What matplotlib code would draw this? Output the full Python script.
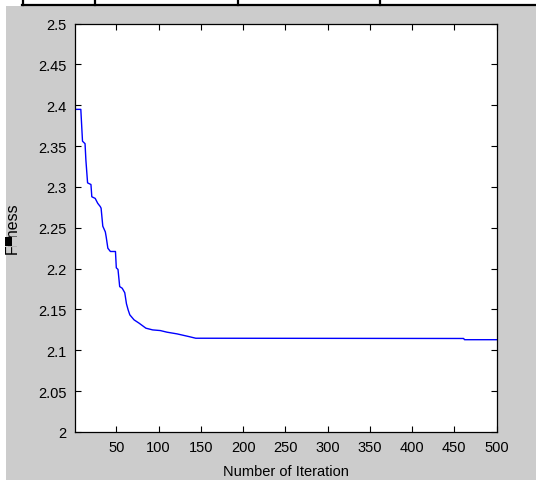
import matplotlib
matplotlib.use("Agg")
import matplotlib.pyplot as plt
from matplotlib.patches import Rectangle
from matplotlib.lines import Line2D

# ---- data ----
iterations = [1, 8, 10, 13, 14, 16, 20, 21, 25, 28, 31, 32, 34, 37, 38, 40, 43,
              49, 50, 52, 54, 57, 60, 62, 64, 66, 71, 77, 85, 93, 102, 110,
              122, 136, 144, 461, 462, 500]
fitness = [2.395, 2.395, 2.356, 2.353, 2.333, 2.305, 2.303, 2.288, 2.286, 2.280,
           2.276, 2.274, 2.252, 2.245, 2.239, 2.225, 2.221, 2.221, 2.201, 2.199,
           2.178, 2.176, 2.1705, 2.157, 2.1495, 2.1434, 2.1373, 2.1332, 2.1271,
           2.125, 2.1242, 2.1222, 2.1201, 2.1168, 2.1148, 2.1145, 2.1130, 2.1130]
xticks = [50, 100, 150, 200, 250, 300, 350, 400, 450, 500]
yticks = [2.0, 2.05, 2.1, 2.15, 2.2, 2.25, 2.3, 2.35, 2.4, 2.45, 2.5]
ytick_labels = ["2", "2.05", "2.1", "2.15", "2.2", "2.25", "2.3", "2.35", "2.4", "2.45", "2.5"]

plt.rcParams['font.family'] = ['Liberation Sans', 'DejaVu Sans']

W, H = 536, 481
fig = plt.figure(figsize=(W / 100, H / 100), dpi=100, facecolor="white")

# gray figure background (MATLAB window)
fig.patches.append(Rectangle((6 / W, 0), 1 - 6 / W, (H - 7) / H,
                             transform=fig.transFigure, facecolor="#cccccc",
                             edgecolor="none", zorder=-10))
# table border lines at the top
fig.lines.append(Line2D([22 / W, 1], [1 - 6 / H, 1 - 6 / H], transform=fig.transFigure,
                        color="black", lw=1.6, zorder=-5))
for xv in [22.6, 94.7, 237.6, 380]:
    fig.lines.append(Line2D([xv / W, xv / W], [1, 1 - 6 / H], transform=fig.transFigure,
                            color="black", lw=1.6, zorder=-5))

left, right, top, bottom = 74.9, 496.6, 24.6, 433.0
ax = fig.add_axes([left / W, (H - bottom) / H, (right - left) / W, (bottom - top) / H])
ax.set_zorder(1)
ax.set_facecolor("white")
ax.plot(iterations, fitness, color="#0000ff", lw=1.0)

ax.set_xlim(1, 500)
ax.set_ylim(2.0, 2.5)
ax.set_xticks(xticks)
ax.set_xticklabels([str(v) for v in xticks])
ax.set_yticks(yticks)
ax.set_yticklabels(ytick_labels)
ax.tick_params(direction="in", length=4, width=0.8, top=True, right=True,
               labelsize=10.5, colors="black")
ax.tick_params(axis="x", pad=6)
ax.tick_params(axis="y", pad=6)
for s in ax.spines.values():
    s.set_linewidth(0.9)
    s.set_color("black")

ax.set_xlabel("Number of Iteration", fontsize=10.5, labelpad=7)
ax.set_ylabel("Fitness", fontsize=11.5)
ax.yaxis.set_label_coords(20 / W, (H - 228.5) / H, transform=fig.transFigure)

# label partly hidden by a black marker box, as in the reference
fig.patches.append(Rectangle((11 / W, 1 - 247 / H), 9 / W, 9 / H,
                             transform=fig.transFigure, facecolor="#cccccc",
                             edgecolor="none", zorder=4))
fig.patches.append(Rectangle((5 / W, 1 - 247 / H), 6.5 / W, 9.5 / H,
                             transform=fig.transFigure, facecolor="black",
                             edgecolor="none", zorder=5))

fig.savefig("out.png", dpi=100, facecolor="white")
